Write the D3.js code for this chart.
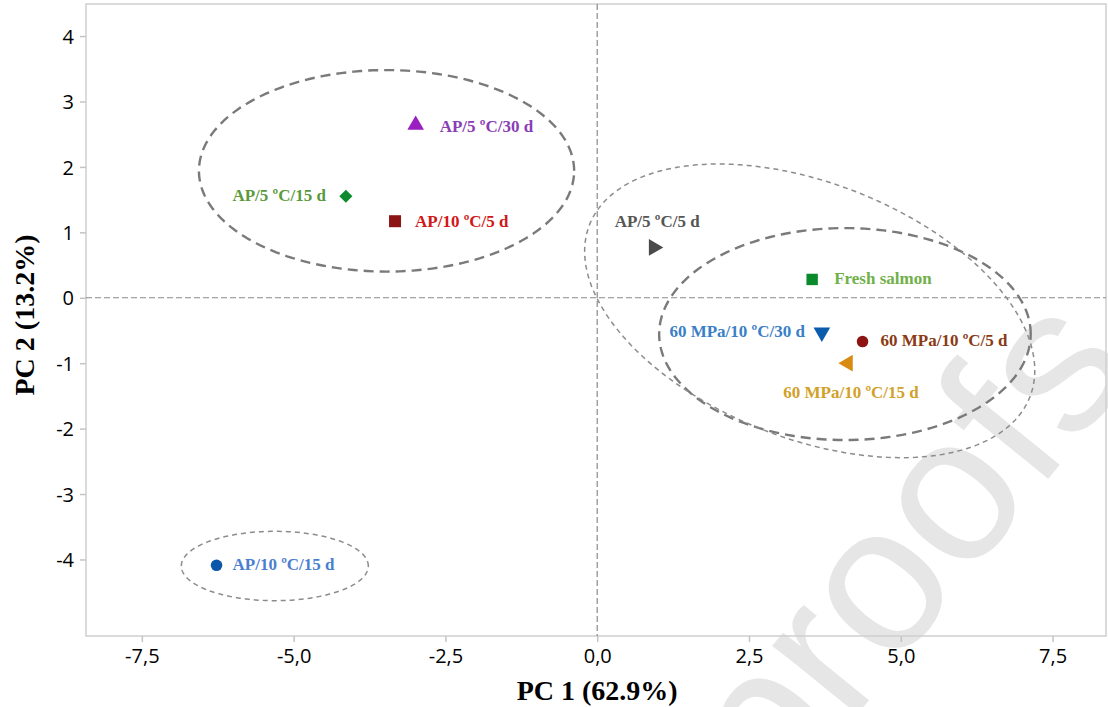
<!DOCTYPE html>
<html>
<head>
<meta charset="utf-8">
<script src="https://cdn.jsdelivr.net/npm/d3@7"></script>
<style>
  body { margin: 0; background: #fff; }
  svg { display: block; }
</style>
</head>
<body>
<svg id="pca"></svg>
<script>
// samples and their scores on the first two components
var samples = ["AP/5 ºC/30 d", "AP/5 ºC/15 d", "AP/10 ºC/5 d", "AP/5 ºC/5 d", "Fresh salmon",
               "60 MPa/10 ºC/30 d", "60 MPa/10 ºC/5 d", "60 MPa/10 ºC/15 d", "AP/10 ºC/15 d"];
var pc1 = [-2.99, -4.14, -3.33, 0.93, 3.54, 3.70, 4.37, 4.13, -6.27];
var pc2 = [2.64, 1.55, 1.17, 0.77, 0.28, -0.53, -0.67, -1.00, -4.09];

// grouping ellipses (centre, semi axes, angle in degrees, all in PC units)
var ellCx = [-3.47, -5.31, 4.08, 3.50];
var ellCy = [1.94, -4.10, -0.555, -0.20];
var ellRx = [3.09, 1.54, 3.06, 3.86];
var ellRy = [1.54, 0.53, 1.62, 1.97];
var ellAngle = [0, 0, 0, -18.9];

var xTicks = [-7.5, -5, -2.5, 0, 2.5, 5, 7.5];
var yTicks = [-4, -3, -2, -1, 0, 1, 2, 3, 4];

// styling, kept apart from the values
var markerStyle = [
    { type: "tri", rot: 0, size: 120, fill: "#9a1ec0", text: "#8a3db5", dx: 24, dy: 6.5, anchor: "start" },
    { type: "sq", rot: 45, size: 85, fill: "#0e8a2e", text: "#5a9a3c", dx: -20, dy: 5, anchor: "end" },
    { type: "sq", rot: 0, size: 144, fill: "#8b1414", text: "#d01818", dx: 20, dy: 6, anchor: "start" },
    { type: "tri", rot: 90, size: 120, fill: "#4a4a4a", text: "#555555", dx: -39, dy: -20.5, anchor: "start" },
    { type: "sq", rot: 0, size: 130, fill: "#0a8a2a", text: "#70b04a", dx: 22, dy: 5, anchor: "start" },
    { type: "tri", rot: 180, size: 120, fill: "#0b5cad", text: "#3a80c8", dx: -17, dy: 5, anchor: "end" },
    { type: "circ", rot: 0, size: 104, fill: "#8e1414", text: "#8a3a14", dx: 18, dy: 4, anchor: "start" },
    { type: "tri", rot: -90, size: 120, fill: "#d98a10", text: "#d1a12a", dx: 3, dy: 35, anchor: "middle" },
    { type: "circ", rot: 0, size: 104, fill: "#0a56a8", text: "#4a7fd0", dx: 16, dy: 5, anchor: "start" }
];
var ellStyle = [
    { width: 2.4, color: "#7a7a7a", dash: "10,6" },
    { width: 1.5, color: "#8c8c8c", dash: "5,4" },
    { width: 2.4, color: "#7a7a7a", dash: "10,6" },
    { width: 1.5, color: "#8c8c8c", dash: "5,4" }
];

var width = 1108,
    height = 707,
    margin = { top: 4, right: 2, bottom: 71, left: 86 };

var svg = d3.select("svg#pca")
    .attr("width", width)
    .attr("height", height);

svg.append("rect")
    .attr("width", width)
    .attr("height", height)
    .attr("fill", "#fff");

// journal watermark sits behind everything
svg.append("text")
    .attr("transform", "translate(776,815) rotate(-51)")
    .style("font-family", "'Liberation Sans', Arial, sans-serif")
    .style("font-size", "207px")
    .attr("fill", "#e6e6e6")
    .text("proofs");

var x = d3.scaleLinear()
    .domain([-8.42, 8.38])
    .range([margin.left, width - margin.right]);

var y = d3.scaleLinear()
    .domain([-5.17, 4.49])
    .range([height - margin.bottom, margin.top]);

// frame
svg.append("rect")
    .attr("x", x.range()[0])
    .attr("y", y.range()[1])
    .attr("width", x.range()[1] - x.range()[0])
    .attr("height", y.range()[0] - y.range()[1])
    .attr("fill", "none")
    .attr("stroke", "#cfcfcf")
    .attr("stroke-width", 1.5);

var fmt = function(d) {
    return d3.format(".1f")(d).replace(".", ",").replace("−", "-");
};

var xAxis = svg.append("g")
    .attr("transform", "translate(0," + y.range()[0] + ")")
    .call(d3.axisBottom(x).tickValues(xTicks).tickFormat(fmt).tickSize(6).tickPadding(7));

var yAxis = svg.append("g")
    .attr("transform", "translate(" + x.range()[0] + ",0)")
    .call(d3.axisLeft(y).tickValues(yTicks).tickFormat(function(d) { return String(d); }).tickSize(6).tickPadding(6));

[xAxis, yAxis].forEach(function(g) {
    g.select(".domain").remove();
    g.selectAll(".tick line").attr("stroke", "#c4c4c4").attr("stroke-width", 1.5);
    g.selectAll(".tick text")
        .attr("fill", "#000")
        .style("font-family", "'Open Sans', 'Noto Sans', sans-serif")
        .style("font-size", "20px");
});
yAxis.selectAll(".tick text").attr("dy", "0.36em");

// zero reference lines
svg.append("line")
    .attr("x1", x(0)).attr("x2", x(0))
    .attr("y1", y.range()[1]).attr("y2", y.range()[0])
    .attr("stroke", "#8a8a8a")
    .attr("stroke-width", 1.2)
    .attr("stroke-dasharray", "6,3");

svg.append("line")
    .attr("x1", x.range()[0]).attr("x2", x.range()[1])
    .attr("y1", y(0)).attr("y2", y(0))
    .attr("stroke", "#8a8a8a")
    .attr("stroke-width", 1.2)
    .attr("stroke-dasharray", "6,3");

// ellipses, sampled in PC units then mapped through the scales
var line = d3.line()
    .x(function(p) { return x(p[0]); })
    .y(function(p) { return y(p[1]); })
    .curve(d3.curveLinearClosed);

ellCx.forEach(function(cx, i) {
    var a = ellAngle[i] * Math.PI / 180,
        pts = d3.range(0, 2 * Math.PI, Math.PI / 90).map(function(t) {
            var ex = ellRx[i] * Math.cos(t),
                ey = ellRy[i] * Math.sin(t);
            return [cx + ex * Math.cos(a) - ey * Math.sin(a),
                    ellCy[i] + ex * Math.sin(a) + ey * Math.cos(a)];
        });

    svg.append("path")
        .attr("d", line(pts))
        .attr("fill", "none")
        .attr("stroke", ellStyle[i].color)
        .attr("stroke-width", ellStyle[i].width)
        .attr("stroke-dasharray", ellStyle[i].dash);
});

// points and labels
var shapes = { tri: d3.symbolTriangle, sq: d3.symbolSquare, circ: d3.symbolCircle };

var pt = svg.selectAll("g.sample")
    .data(samples)
    .enter()
    .append("g")
        .attr("class", "sample")
        .attr("transform", function(d, i) {
            return "translate(" + [x(pc1[i]), y(pc2[i])] + ")";
        });

pt.append("path")
    .attr("d", function(d, i) {
        var s = markerStyle[i];
        return d3.symbol().type(shapes[s.type]).size(s.size)();
    })
    .attr("transform", function(d, i) { return "rotate(" + markerStyle[i].rot + ")"; })
    .attr("fill", function(d, i) { return markerStyle[i].fill; });

pt.append("text")
    .attr("x", function(d, i) { return markerStyle[i].dx; })
    .attr("y", function(d, i) { return markerStyle[i].dy; })
    .attr("text-anchor", function(d, i) { return markerStyle[i].anchor; })
    .attr("fill", function(d, i) { return markerStyle[i].text; })
    .style("font-family", "'Liberation Serif', 'Times New Roman', serif")
    .style("font-weight", "bold")
    .style("font-size", "17px")
    .text(function(d) { return d; });

// axis titles
svg.append("text")
    .attr("x", x(0))
    .attr("y", 700)
    .attr("text-anchor", "middle")
    .style("font-family", "'Liberation Serif', 'Times New Roman', serif")
    .style("font-weight", "bold")
    .style("font-size", "28px")
    .text("PC 1 (62.9%)");

svg.append("text")
    .attr("transform", "translate(34,315) rotate(-90)")
    .attr("text-anchor", "middle")
    .style("font-family", "'Liberation Serif', 'Times New Roman', serif")
    .style("font-weight", "bold")
    .style("font-size", "28px")
    .text("PC 2 (13.2%)");
</script>
</body>
</html>
